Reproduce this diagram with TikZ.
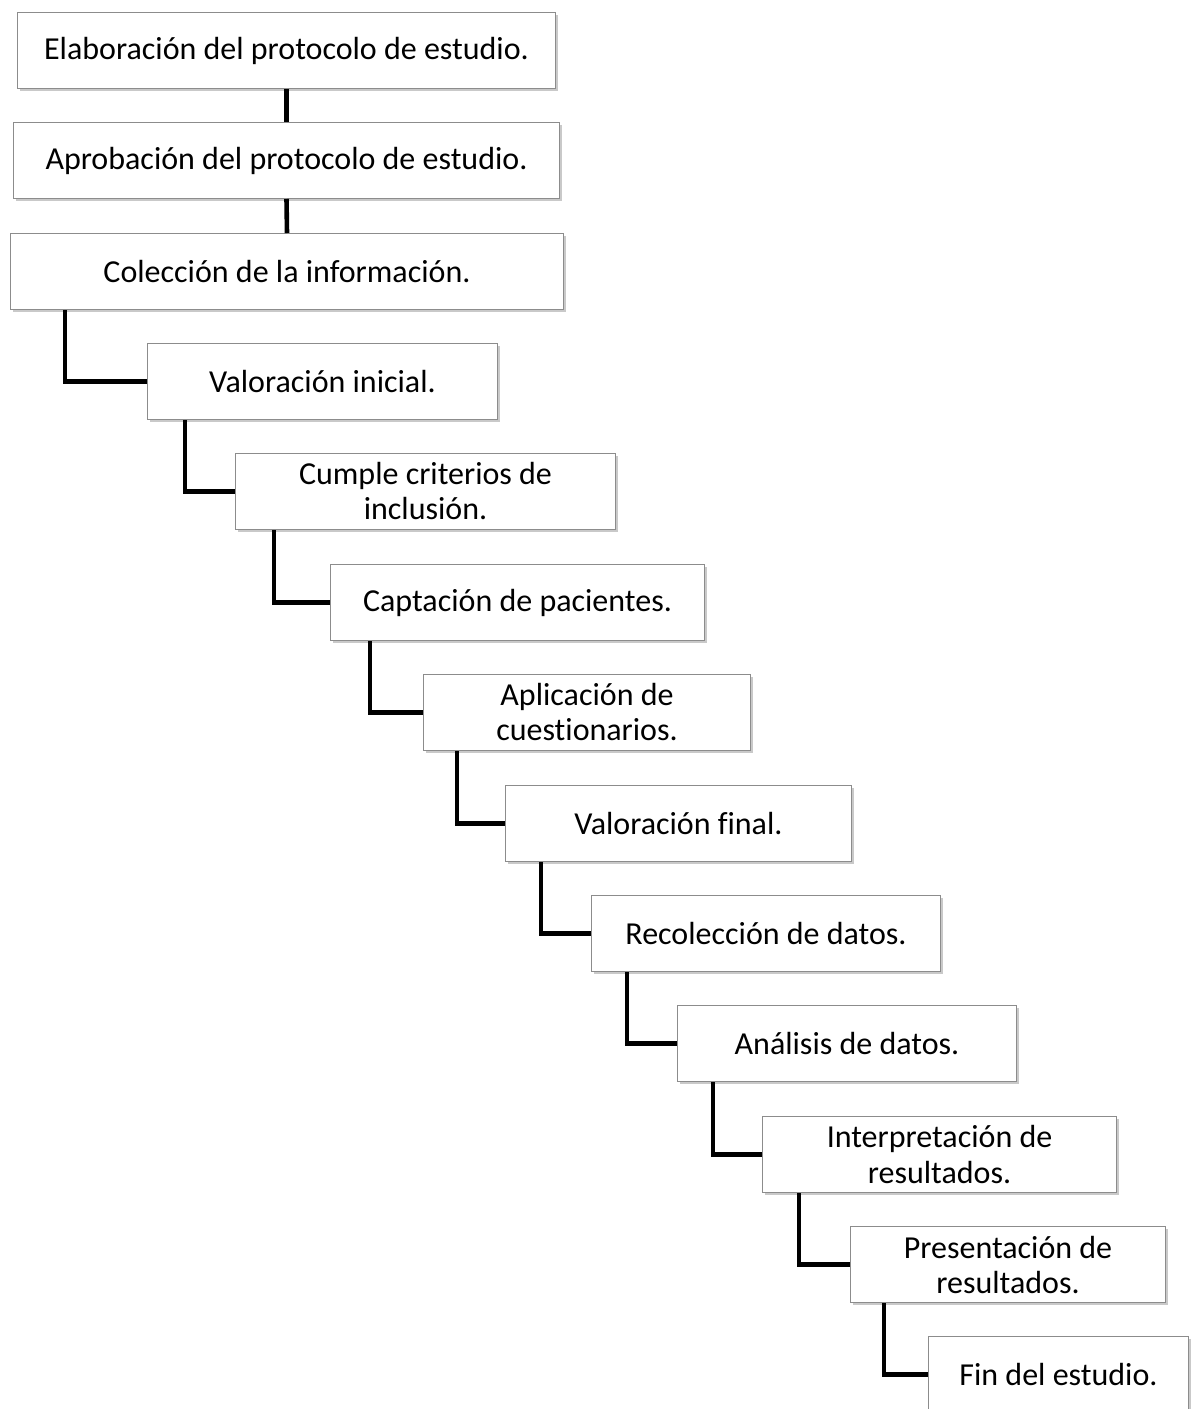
\documentclass[tikz,border=0pt]{standalone}
\usepackage{fontspec}
\setmainfont{Carlito}[Ligatures=NoCommon]
\usetikzlibrary{calc,shadows}
\tikzset{
  box/.style={draw=black!45, line width=0.5pt, fill=white, anchor=north west,
    minimum height=38pt, inner sep=0pt, align=center,
    font=\fontsize{16}{17.5}\selectfont,
    drop shadow={shadow xshift=1.2pt, shadow yshift=-1.2pt, opacity=0.35, fill=black!60}},
  conn/.style={line width=2.3pt, black}
}
\begin{document}
\begin{tikzpicture}[x=0.5pt,y=-0.5pt]
\clip (0,0) rectangle (1191,1409);
\fill[white] (0,0) rectangle (1191,1409);
\node[box, minimum width=269pt] (b1) at (17,12) {Elaboración del protocolo de estudio.};
\node[box, minimum width=273pt] (b2) at (13,122) {Aprobación del protocolo de estudio.};
\node[box, minimum width=276.5pt] (b3) at (10,233) {Colección de la información.};
\node[box, minimum width=175pt] (b4) at (147,343) {Valoración inicial.};
\node[box, minimum width=190pt] (b5) at (235,453) {Cumple criterios de\\inclusión.};
\node[box, minimum width=187pt] (b6) at (330,564) {Captación de pacientes.};
\node[box, minimum width=163.5pt] (b7) at (423,674) {Aplicación de\\cuestionarios.};
\node[box, minimum width=173pt] (b8) at (505,785) {Valoración final.};
\node[box, minimum width=174.5pt] (b9) at (591,895) {Recolección de datos.};
\node[box, minimum width=169.5pt] (b10) at (677,1005) {Análisis de datos.};
\node[box, minimum width=177pt] (b11) at (762,1116) {Interpretación de\\resultados.};
\node[box, minimum width=157.5pt] (b12) at (850,1226) {Presentación de\\resultados.};
\node[box, minimum width=130pt] (b13) at (928,1336) {Fin del estudio.};
\draw[conn] (b1.south) -- (b2.north);
\draw[conn] (b2.south) -- (b3.north);
\draw[conn] ($(b3.south west)+(55,0)$) |- (b4.west);
\draw[conn] ($(b4.south west)+(38,0)$) |- (b5.west);
\draw[conn] ($(b5.south west)+(39,0)$) |- (b6.west);
\draw[conn] ($(b6.south west)+(40,0)$) |- (b7.west);
\draw[conn] ($(b7.south west)+(34,0)$) |- (b8.west);
\draw[conn] ($(b8.south west)+(36,0)$) |- (b9.west);
\draw[conn] ($(b9.south west)+(36,0)$) |- (b10.west);
\draw[conn] ($(b10.south west)+(36,0)$) |- (b11.west);
\draw[conn] ($(b11.south west)+(37,0)$) |- (b12.west);
\draw[conn] ($(b12.south west)+(34,0)$) |- (b13.west);
\end{tikzpicture}
\end{document}
